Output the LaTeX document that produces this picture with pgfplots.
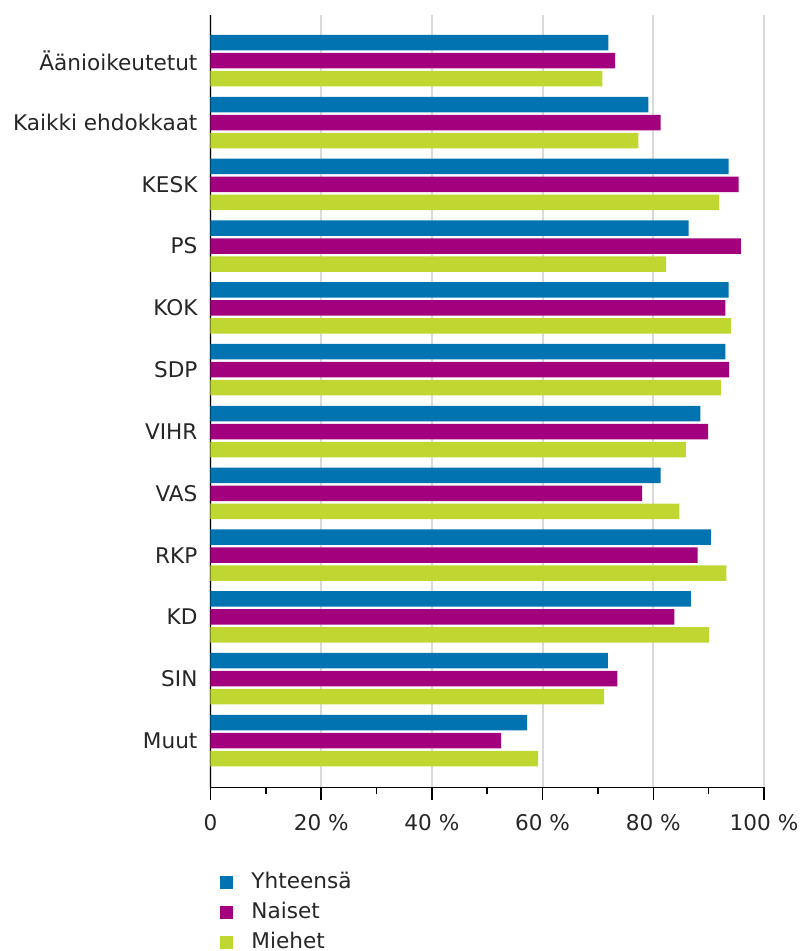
\documentclass[border=0pt]{standalone}
\usepackage{fontspec}
\setmainfont{DejaVu Sans}
\usepackage{pgfplots}
\pgfplotsset{compat=1.18}
\definecolor{cY}{HTML}{0073B0}
\definecolor{cN}{HTML}{A3007E}
\definecolor{cM}{HTML}{BFD730}
\begin{document}
\begin{tikzpicture}
\useasboundingbox (-105.25pt,-81.75pt) rectangle (295.25pt,393.75pt);
\begin{axis}[
  scale only axis, width=276.75pt, height=386.25pt,
  xmin=0, xmax=100, ymin=-0.76, ymax=11.74,
  axis x line=bottom, axis y line=left,
  axis line style={-, line width=0.9pt, black},
  xbar, bar width=7.75pt,
  xtick={0,20,...,100}, xticklabels={0,20 \%,40 \%,60 \%,80 \%,100 \%},
  minor x tick num=1,
  xmajorgrids, major grid style={gray!30, line width=1pt},
  tick align=outside,
  x tick style={black, line width=0.8pt},
  major tick length=6pt, minor tick length=3pt,
  ytick={0,...,11},
  yticklabels={Muut,SIN,KD,RKP,VAS,VIHR,SDP,KOK,PS,KESK,Kaikki ehdokkaat,Äänioikeutetut},
  y tick style={draw=none},
  tick label style={font=\fontsize{10.8}{13}\selectfont, text=black!85},
  yticklabel style={xshift=3pt},
  xticklabel style={yshift=-4pt},
  legend style={at={(0,0)}, anchor=north west, xshift=4.75pt, yshift=-41.5pt,
    draw=none, fill=none, font=\fontsize{10.8}{13}\selectfont, text=black!85,
    row sep=3pt, column sep=8pt, inner sep=0pt,
    nodes={inner sep=1pt, text height=8pt, text depth=2pt}},
  legend cell align=left,
  legend image code/.code={\fill[#1] (0pt,-3.25pt) rectangle (6.5pt,3.25pt);},
]
\addplot[fill=cY, draw=none, bar shift=9pt] coordinates {
(57.2,0) (71.8,1) (86.8,2) (90.4,3) (81.3,4) (88.5,5) (93.0,6) (93.6,7) (86.4,8) (93.6,9) (79.1,10) (71.9,11)};
\addplot[fill=cN, draw=none, bar shift=0pt] coordinates {
(52.5,0) (73.5,1) (83.8,2) (88.0,3) (78.0,4) (89.9,5) (93.7,6) (93.0,7) (95.8,8) (95.4,9) (81.3,10) (73.1,11)};
\addplot[fill=cM, draw=none, bar shift=-9pt] coordinates {
(59.2,0) (71.1,1) (90.1,2) (93.2,3) (84.7,4) (85.9,5) (92.2,6) (94.0,7) (82.3,8) (91.9,9) (77.3,10) (70.8,11)};
\legend{Yhteensä,Naiset,Miehet}
\end{axis}
\end{tikzpicture}
\end{document}
